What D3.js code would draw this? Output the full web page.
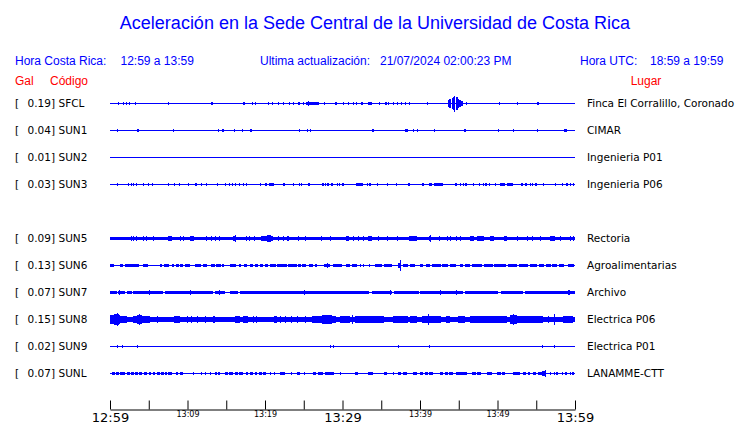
<!DOCTYPE html>
<html><head><meta charset="utf-8">
<script src="https://cdn.jsdelivr.net/npm/d3@7"></script>
<style>body{margin:0;background:#fff}svg{display:block}</style>
</head><body><svg id="c" width="740" height="423"></svg>
<script>
// ---------------- data ----------------
const titleText = "Aceleración en la Sede Central de la Universidad de Costa Rica";
const localRange = "12:59 a 13:59";
const utcRange = "18:59 a 19:59";
const updated = "21/07/2024 02:00:23 PM";

const slots = ["SFCL","SUN1","SUN2","SUN3","SUN4","SUN5","SUN6","SUN7","SUN8","SUN9","SUNL"];
const codes = ["SFCL","SUN1","SUN2","SUN3","SUN5","SUN6","SUN7","SUN8","SUN9","SUNL"];
const peakGal = [0.19,0.04,0.01,0.03,0.09,0.13,0.07,0.15,0.02,0.07];
const places = ["Finca El Corralillo, Coronado","CIMAR","Ingenieria P01","Ingenieria P06","Rectoria","Agroalimentarias","Archivo","Electrica P06","Electrica P01","LANAMME-CTT"];

const tickMinutes = [0,5,10,15,20,25,30,35,40,45,50,55,60];
const tickLabels = ["12:59","","13:09","","13:19","","13:29","","13:39","","13:49","","13:59"];
const majorLabels = ["12:59","13:29","13:59"];

// envelopes: [minute, Gal] = single spike, [fromMinute, toMinute, Gal] = segment
const sfcl = [[1.07,0.022],[1.64,0.022],[2.0,2.15,0.025],[2.4,2.55,0.03],[3.19,0.022],[7.45,0.015],[13.0,13.3,0.03],[17.1,17.35,0.03],[18.28,0.022],[18.71,0.022],[20.43,0.018],[20.94,0.015],[21.72,0.018],[22.28,0.018],[23.14,0.018],[23.65,0.015],[24.2,24.45,0.03],[24.94,0.015],[25.3,27.0,0.035],[25.55,0.05],[27.6,0.018],[29.0,29.3,0.025],[30.1,0.022],[30.75,0.022],
  [31.3,0.02],[31.8,0.02],[32.4,32.6,0.025],[33.3,33.8,0.025],[34.75,0.02],[35.5,35.7,0.025],[35.9,0.02],[36.55,0.022],[37.0,0.02],[37.6,0.022],[38.06,0.022],[38.6,0.02],[40.9,0.02],
  [43.6,43.8,0.07],[43.8,44.1,0.1],[44.1,44.3,0.13],[44.3,44.45,0.16],[44.45,44.6,0.19],[44.6,44.8,0.15],[44.8,45.0,0.11],[45.0,45.3,0.08],[45.3,45.6,0.05],[45.9,0.02],[50.2,0.02],[52.5,0.02],[55.1,55.4,0.03]];
const sun1 = [[0.94,0.02],[3.45,3.7,0.03],[8.17,0.012],[13.97,0.022],[14.4,14.65,0.03],[16.04,0.02],[16.99,0.015],[18.0,18.3,0.03],[24.35,0.02],[25.46,0.02],[25.8,0.015],[29.16,0.01],[33.75,34.05,0.03],[38.1,38.5,0.03],[39.1,0.02],[39.57,0.015],[41.85,0.02],[45.7,45.9,0.022],[50.1,0.02],[52.04,0.02],[55.05,0.012],[58.6,59.0,0.035]];
const sun2 = [];
const sun3 = [[0.94,0.015],[2.37,0.02],[2.67,0.02],[3.0,0.02],[3.35,0.02],[4.3,0.02],[4.95,0.02],[5.4,0.02],[7.5,0.02],[8.2,0.02],[8.95,0.02],[10.1,0.02],[11.0,11.2,0.02],[11.8,0.02],[12.4,0.02],[13.8,0.02],[14.9,0.02],[15.3,0.02],[15.7,0.02],[16.1,0.02],[16.7,0.02],[17.2,0.02],[17.6,0.02],[19.4,0.02],[20.0,20.3,0.02],[20.5,21.1,0.02],[22.3,22.6,0.025],[23.65,0.02],[24.4,0.02],[24.7,0.02],[25.5,25.7,0.025],[27.4,27.6,0.02],[27.8,0.02],[28.0,28.3,0.02],[28.5,28.8,0.02],[29.25,29.4,0.02],[29.6,0.02],[29.9,30.1,0.02],[31.8,32.7,0.025],[33.1,0.02],[33.4,33.6,0.02],[34.4,0.02],[35.8,0.02],[36.9,0.02],[38.4,38.6,0.02],[40.2,40.5,0.02],[41.2,41.6,0.02],[41.8,43.0,0.025],[44.5,44.8,0.02],[45.1,0.02],[45.5,0.02],[45.8,46.0,0.02],[46.9,0.02],[47.65,47.8,0.02],[48.1,0.02],[48.4,48.6,0.02],[48.9,0.02],[49.7,0.02],[50.3,51.0,0.025],[51.2,51.96,0.025],[53.0,53.3,0.02],[53.6,53.8,0.02],[54.2,0.02],[54.5,0.02],[54.8,55.1,0.02],[55.9,0.02],[57.4,0.02],[58.3,0.02],[58.8,59.0,0.02],[59.3,0.02],[59.7,0.02]];
const sun5 = [[0,60,0.027],[2.67,0.055],[3.0,0.055],[3.35,0.05],[4.2,0.055],[4.7,0.05],[5.6,0.055],[7.5,8.0,0.05],[9.0,0.05],[9.4,0.05],[10.3,10.8,0.055],[12.4,0.05],[13.0,0.05],[13.55,0.05],[14.1,0.05],[15.9,16.35,0.055],[16.1,0.08],[17.55,0.045],[17.9,0.05],[18.6,0.045],[19.5,21.1,0.05],[20.3,20.8,0.07],[20.6,0.08],[21.7,0.045],[22.3,0.05],[22.9,23.1,0.05],[24.3,0.045],[25.2,0.045],[27.2,0.045],[28.4,0.05],[30.45,30.8,0.055],
  [31.4,0.045],[32.0,0.045],[32.6,0.045],[33.3,33.8,0.05],[34.6,0.045],[35.7,0.045],[37.0,0.045],[38.6,39.6,0.05],[41.2,41.4,0.06],[41.3,0.08],[42.5,0.045],[43.45,0.045],[43.9,0.045],[44.6,0.045],[45.2,0.045],[46.5,47.0,0.055],[47.3,48.2,0.05],[49.0,49.5,0.05],[50.8,51.2,0.05],[52.5,0.045],[53.8,0.045],[54.5,0.045],[55.5,0.045],[56.8,57.4,0.055],[58.1,0.045],[59.35,0.045],[59.8,0.05]];
const sun6 = [[0,0.5,0.023],[1.3,1.64,0.023],[1.94,3.78,0.023],[2.5,0.035],[4.3,4.95,0.023],[6.4,6.7,0.023],[7.0,7.7,0.023],[7.96,8.26,0.023],[8.5,8.9,0.023],[9.0,9.4,0.023],[9.7,10.3,0.023],[11.0,11.8,0.023],[12.0,12.5,0.023],[13.0,13.5,0.023],[13.7,14.3,0.023],[14.4,14.7,0.023],[15.5,16.3,0.023],[16.7,17.0,0.023],[17.3,17.7,0.023],[18.1,18.5,0.023],[18.7,19.1,0.023],[19.35,19.8,0.023],[20.0,20.4,0.023],[20.6,21.4,0.025],[21.5,22.8,0.025],[23.0,24.1,0.025],[24.2,24.6,0.023],[24.8,25.3,0.023],[25.7,26.2,0.023],[26.45,26.75,0.023],[27.6,28.4,0.03],[27.95,0.055],[28.8,30.0,0.025],[30.5,31.0,0.023],
  [31.2,31.8,0.023],[32.2,0.02],[32.7,0.02],[33.45,0.02],[34.2,35.05,0.025],[35.3,36.3,0.025],[37.2,37.6,0.04],[37.4,0.12],[37.85,38.5,0.02],[38.7,39.35,0.02],[40.0,40.35,0.02],[40.8,41.3,0.023],[41.5,42.6,0.023],[42.9,43.7,0.023],[43.9,44.7,0.023],[45.2,45.6,0.02],[45.8,46.45,0.023],[46.7,47.95,0.023],[48.2,49.4,0.023],[49.6,51.2,0.023],[51.4,52.6,0.02],[52.8,54.0,0.02],[54.2,55.05,0.02],[55.3,56.0,0.02],[56.2,56.8,0.02],[57.0,57.7,0.02],[57.9,58.5,0.02],[59.1,59.9,0.02]];
const sun7 = [[0,0.86,0.033],[1.07,1.94,0.033],[2.15,2.8,0.033],[3.0,6.9,0.033],[7.1,13.3,0.033],[13.55,14.8,0.033],[15.5,16.55,0.033],[16.8,33.5,0.033],[33.75,36.3,0.033],[36.6,39.8,0.033],[40.0,45.6,0.033],[45.8,50.1,0.033],[50.4,53.3,0.033],[53.5,59.9,0.035],[1.16,0.055],[5.07,0.05],[10.3,0.05],[14.0,0.045],[25.0,0.045],[36.1,0.05],[42.6,0.05],[44.7,0.05],[59.1,59.4,0.055]];
const sun8 = [[0,60,0.046],[0,1.3,0.09],[0.5,1.1,0.12],[0.86,0.15],[1.3,2.15,0.075],[3.0,5.16,0.08],[3.5,4.1,0.11],[3.78,0.125],[6.0,0.065],[8.2,9.0,0.075],[9.9,0.065],[10.5,0.065],[11.2,0.065],[12.3,0.065],[13.3,13.55,0.065],[16.1,16.8,0.075],[17.2,17.85,0.065],[18.5,0.065],[18.9,0.065],[21.1,21.5,0.075],[21.9,0.065],[22.6,0.065],[23.4,0.065],[24.1,0.065],[25.2,0.065],[26.0,28.8,0.075],[27.3,28.6,0.095],[28.4,0.11],[28.8,29.25,0.07],[29.7,31.0,0.07],[31.2,0.1],[31.6,35.3,0.065],[36.55,38.5,0.075],[38.7,39.6,0.065],[40.2,42.6,0.08],[41.07,0.12],[43.4,43.9,0.065],[44.9,45.8,0.075],[46.45,51.2,0.07],[51.6,52.5,0.095],[52.0,0.13],[52.5,55.9,0.065],[56.55,0.08],[57.3,0.12],[58.5,59.8,0.075]];
const sun9 = [[0.94,0.02],[1.6,0.012],[3.5,0.022],[28.4,0.012],[28.8,0.02],[31.7,0.01],[37.1,0.012],[41.1,0.012],[55.8,0.012],[57.3,0.02]];
const sunl = [[0.2,0.6,0.02],[0.75,1.2,0.02],[1.35,1.94,0.02],[2.15,2.5,0.02],[2.65,3.0,0.02],[3.2,3.6,0.02],[3.75,4.2,0.02],[4.35,4.7,0.02],[5.07,5.3,0.02],[5.5,5.8,0.02],[6.0,6.4,0.02],[6.55,6.9,0.02],[7.05,7.3,0.02],[7.5,7.96,0.02],[8.5,8.8,0.02],[9.0,9.45,0.02],[10.7,0.02],[11.7,0.02],[12.25,0.02],[12.9,0.02],[13.5,13.7,0.02],[13.9,14.2,0.02],[14.8,15.2,0.02],[15.4,15.9,0.02],[16.1,16.5,0.02],[16.7,17.2,0.02],[17.6,17.9,0.02],[18.1,18.5,0.02],[18.7,19.0,0.02],[19.2,19.6,0.02],[19.8,20.2,0.02],[20.6,0.02],[21.1,0.02],[21.9,22.6,0.022],[23.3,0.015],[24.1,24.5,0.02],[25.0,0.02],[26.15,26.6,0.02],[26.8,27.5,0.02],[27.7,28.8,0.022],[29.7,0.015],[31.6,32.0,0.02],[33.3,34.0,0.02],[35.3,35.7,0.02],[36.55,0.015],[37.2,37.6,0.02],[37.8,38.3,0.02],[39.1,39.6,0.02],[40.0,40.4,0.02],[40.6,41.0,0.02],[41.2,41.7,0.02],[42.6,43.0,0.02],[43.2,43.6,0.02],[43.8,44.3,0.022],[44.6,46.0,0.022],[46.7,47.2,0.02],[47.4,47.95,0.02],[48.6,49.25,0.02],[49.9,50.4,0.02],[50.6,51.0,0.02],[52.0,52.9,0.02],[53.3,53.7,0.02],[53.9,54.2,0.02],[54.6,55.0,0.02],[55.2,55.7,0.025],[55.8,56.35,0.04],[56.1,0.07],[56.8,0.015],[57.3,0.015],[57.6,57.9,0.02],[58.3,0.015],[58.7,59.0,0.02],[59.3,0.015],[59.6,59.8,0.02]];
const traces = [sfcl,sun1,sun2,sun3,sun5,sun6,sun7,sun8,sun9,sunl];

// ---------------- drawing ----------------
const BLUE = "#0000ff", RED = "#ff0000";
const svg = d3.select("#c");
const sans = "'Liberation Sans', Arial, Helvetica, sans-serif";
const dejavu = "'DejaVu Sans', Verdana, sans-serif";

const x = d3.scaleLinear().domain([0,60]).range([110,575]);
const row = d3.scalePoint().domain(slots).range([103.5,373.5]);
const amp = d3.scaleLinear().domain([0,0.19]).range([0.6,8]);

svg.append("text").attr("x",375).attr("y",29).attr("text-anchor","middle")
  .attr("font-family",sans).attr("font-size",18).attr("fill",BLUE).text(titleText);

const hdr = [[15,"Hora Costa Rica:"],[120.5,localRange],[260,"Ultima actualización:"],[380,updated],[580,"Hora UTC:"],[650,utcRange]];
svg.selectAll("text.hdr").data(hdr).join("text").attr("class","hdr")
  .attr("x",d=>d[0]).attr("y",65).attr("font-family",sans).attr("font-size",12)
  .attr("fill",BLUE).text(d=>d[1]);
const red = [[15,"Gal","start"],[50,"Código","start"],[646,"Lugar","middle"]];
svg.selectAll("text.red").data(red).join("text").attr("class","red")
  .attr("x",d=>d[0]).attr("y",85).attr("text-anchor",d=>d[2]).attr("font-family",sans).attr("font-size",12)
  .attr("fill",RED).text(d=>d[1]);

const g = svg.append("g");
codes.forEach((c,i)=>{
  const cy = row(c);
  const lab = g.append("g").attr("font-family",dejavu).attr("font-size",10.5).attr("fill","#000");
  lab.append("text").attr("x",15).attr("y",cy+3.5).text("[");
  lab.append("text").attr("x",55).attr("y",cy+3.5).attr("text-anchor","end").text(peakGal[i].toFixed(2)+"]");
  lab.append("text").attr("x",58.5).attr("y",cy+3.5).text(c);
  lab.append("text").attr("x",587).attr("y",cy+3.5).text(places[i]);

  g.append("line").attr("x1",x(0)).attr("x2",x(60)).attr("y1",cy).attr("y2",cy)
    .attr("stroke",BLUE).attr("stroke-width",1);
  g.append("g").selectAll("rect").data(traces[i]).join("rect")
    .attr("shape-rendering","crispEdges")
    .attr("x",d=> Math.round(x(d[0])))
    .attr("width",d=> d.length===2 ? 1 : Math.max(1,Math.round(x(d[1])-x(d[0]))))
    .attr("y",d=> cy - amp(d[d.length-1]))
    .attr("height",d=> 2*amp(d[d.length-1]))
    .attr("fill",BLUE);
});

// time axis
const axis = d3.axisBottom(x).tickValues(tickMinutes).tickSizeInner(-9).tickSizeOuter(0)
  .tickFormat((d,i)=>tickLabels[i]);
const ax = svg.append("g").attr("transform","translate(0,409.5)").call(axis);
ax.select(".domain").attr("stroke","#000");
ax.selectAll(".tick line").attr("stroke","#000");
ax.selectAll(".tick text")
  .attr("font-family",dejavu).attr("fill","#000").attr("dy",null)
  .attr("font-size",(d,i)=> majorLabels.includes(tickLabels[i]) ? 13 : 8)
  .attr("y",(d,i)=> majorLabels.includes(tickLabels[i]) ? 12 : 7.5);
</script></body></html>
